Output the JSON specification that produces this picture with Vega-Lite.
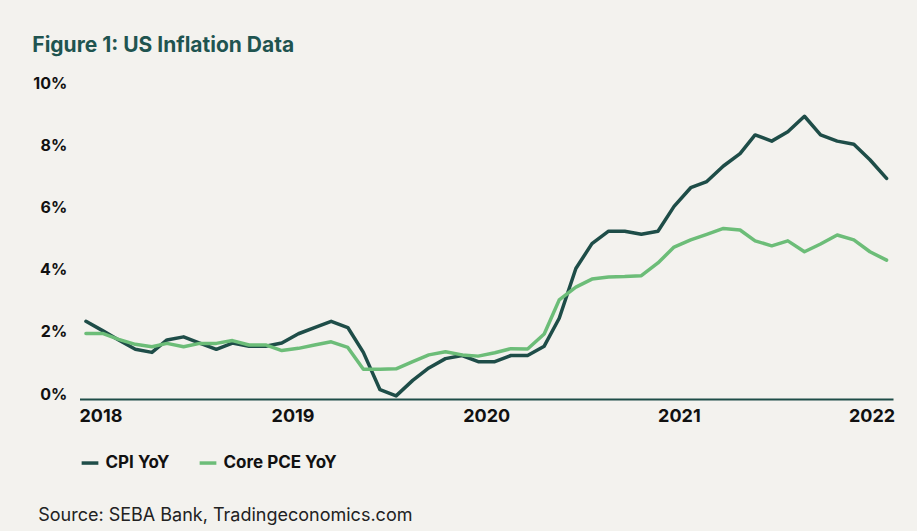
{
  "$schema": "https://vega.github.io/schema/vega-lite/v6.json",
  "width": 813.5,
  "height": 310.7,
  "autosize": {"type": "none"},
  "padding": {"left": 79.5, "top": 88.3, "right": 24, "bottom": 132},
  "background": "#f3f2ee",
  "title": {
    "text": "Figure 1: US Inflation Data",
    "anchor": "start",
    "frame": "group",
    "dx": -47.2,
    "offset": 22,
    "dy": 20,
    "baseline": "alphabetic",
    "font": "Inter",
    "fontSize": 21,
    "fontWeight": 700,
    "color": "#1f5450"
  },
  "config": {"view": {"stroke": null}, "font": "Inter"},
  "data": {
    "values": [
      {"date": "2018-10-01", "series": "CPI YoY", "value": 2.5},
      {"date": "2018-11-01", "series": "CPI YoY", "value": 2.2},
      {"date": "2018-12-01", "series": "CPI YoY", "value": 1.9},
      {"date": "2019-01-01", "series": "CPI YoY", "value": 1.6},
      {"date": "2019-02-01", "series": "CPI YoY", "value": 1.5},
      {"date": "2019-03-01", "series": "CPI YoY", "value": 1.9},
      {"date": "2019-04-01", "series": "CPI YoY", "value": 2.0},
      {"date": "2019-05-01", "series": "CPI YoY", "value": 1.8},
      {"date": "2019-06-01", "series": "CPI YoY", "value": 1.6},
      {"date": "2019-07-01", "series": "CPI YoY", "value": 1.8},
      {"date": "2019-08-01", "series": "CPI YoY", "value": 1.7},
      {"date": "2019-09-01", "series": "CPI YoY", "value": 1.7},
      {"date": "2019-10-01", "series": "CPI YoY", "value": 1.8},
      {"date": "2019-11-01", "series": "CPI YoY", "value": 2.1},
      {"date": "2019-12-01", "series": "CPI YoY", "value": 2.3},
      {"date": "2020-01-01", "series": "CPI YoY", "value": 2.5},
      {"date": "2020-02-01", "series": "CPI YoY", "value": 2.3},
      {"date": "2020-03-01", "series": "CPI YoY", "value": 1.5},
      {"date": "2020-04-01", "series": "CPI YoY", "value": 0.3},
      {"date": "2020-05-01", "series": "CPI YoY", "value": 0.1},
      {"date": "2020-06-01", "series": "CPI YoY", "value": 0.6},
      {"date": "2020-07-01", "series": "CPI YoY", "value": 1.0},
      {"date": "2020-08-01", "series": "CPI YoY", "value": 1.3},
      {"date": "2020-09-01", "series": "CPI YoY", "value": 1.4},
      {"date": "2020-10-01", "series": "CPI YoY", "value": 1.2},
      {"date": "2020-11-01", "series": "CPI YoY", "value": 1.2},
      {"date": "2020-12-01", "series": "CPI YoY", "value": 1.4},
      {"date": "2021-01-01", "series": "CPI YoY", "value": 1.4},
      {"date": "2021-02-01", "series": "CPI YoY", "value": 1.7},
      {"date": "2021-03-01", "series": "CPI YoY", "value": 2.6},
      {"date": "2021-04-01", "series": "CPI YoY", "value": 4.2},
      {"date": "2021-05-01", "series": "CPI YoY", "value": 5.0},
      {"date": "2021-06-01", "series": "CPI YoY", "value": 5.4},
      {"date": "2021-07-01", "series": "CPI YoY", "value": 5.4},
      {"date": "2021-08-01", "series": "CPI YoY", "value": 5.3},
      {"date": "2021-09-01", "series": "CPI YoY", "value": 5.4},
      {"date": "2021-10-01", "series": "CPI YoY", "value": 6.2},
      {"date": "2021-11-01", "series": "CPI YoY", "value": 6.8},
      {"date": "2021-12-01", "series": "CPI YoY", "value": 7.0},
      {"date": "2022-01-01", "series": "CPI YoY", "value": 7.5},
      {"date": "2022-02-01", "series": "CPI YoY", "value": 7.9},
      {"date": "2022-03-01", "series": "CPI YoY", "value": 8.5},
      {"date": "2022-04-01", "series": "CPI YoY", "value": 8.3},
      {"date": "2022-05-01", "series": "CPI YoY", "value": 8.6},
      {"date": "2022-06-01", "series": "CPI YoY", "value": 9.1},
      {"date": "2022-07-01", "series": "CPI YoY", "value": 8.5},
      {"date": "2022-08-01", "series": "CPI YoY", "value": 8.3},
      {"date": "2022-09-01", "series": "CPI YoY", "value": 8.2},
      {"date": "2022-10-01", "series": "CPI YoY", "value": 7.7},
      {"date": "2022-11-01", "series": "CPI YoY", "value": 7.1},
      {"date": "2018-10-01", "series": "Core PCE YoY", "value": 2.11},
      {"date": "2018-11-01", "series": "Core PCE YoY", "value": 2.11},
      {"date": "2018-12-01", "series": "Core PCE YoY", "value": 1.92},
      {"date": "2019-01-01", "series": "Core PCE YoY", "value": 1.76},
      {"date": "2019-02-01", "series": "Core PCE YoY", "value": 1.68},
      {"date": "2019-03-01", "series": "Core PCE YoY", "value": 1.79},
      {"date": "2019-04-01", "series": "Core PCE YoY", "value": 1.68},
      {"date": "2019-05-01", "series": "Core PCE YoY", "value": 1.79},
      {"date": "2019-06-01", "series": "Core PCE YoY", "value": 1.79},
      {"date": "2019-07-01", "series": "Core PCE YoY", "value": 1.88},
      {"date": "2019-08-01", "series": "Core PCE YoY", "value": 1.74},
      {"date": "2019-09-01", "series": "Core PCE YoY", "value": 1.74},
      {"date": "2019-10-01", "series": "Core PCE YoY", "value": 1.56},
      {"date": "2019-11-01", "series": "Core PCE YoY", "value": 1.63},
      {"date": "2019-12-01", "series": "Core PCE YoY", "value": 1.74},
      {"date": "2020-01-01", "series": "Core PCE YoY", "value": 1.84},
      {"date": "2020-02-01", "series": "Core PCE YoY", "value": 1.66},
      {"date": "2020-03-01", "series": "Core PCE YoY", "value": 0.96},
      {"date": "2020-04-01", "series": "Core PCE YoY", "value": 0.96},
      {"date": "2020-05-01", "series": "Core PCE YoY", "value": 0.97},
      {"date": "2020-06-01", "series": "Core PCE YoY", "value": 1.2},
      {"date": "2020-07-01", "series": "Core PCE YoY", "value": 1.42},
      {"date": "2020-08-01", "series": "Core PCE YoY", "value": 1.52},
      {"date": "2020-09-01", "series": "Core PCE YoY", "value": 1.42},
      {"date": "2020-10-01", "series": "Core PCE YoY", "value": 1.38},
      {"date": "2020-11-01", "series": "Core PCE YoY", "value": 1.49},
      {"date": "2020-12-01", "series": "Core PCE YoY", "value": 1.62},
      {"date": "2021-01-01", "series": "Core PCE YoY", "value": 1.61},
      {"date": "2021-02-01", "series": "Core PCE YoY", "value": 2.09},
      {"date": "2021-03-01", "series": "Core PCE YoY", "value": 3.19},
      {"date": "2021-04-01", "series": "Core PCE YoY", "value": 3.6},
      {"date": "2021-05-01", "series": "Core PCE YoY", "value": 3.86},
      {"date": "2021-06-01", "series": "Core PCE YoY", "value": 3.93},
      {"date": "2021-07-01", "series": "Core PCE YoY", "value": 3.94},
      {"date": "2021-08-01", "series": "Core PCE YoY", "value": 3.97},
      {"date": "2021-09-01", "series": "Core PCE YoY", "value": 4.38},
      {"date": "2021-10-01", "series": "Core PCE YoY", "value": 4.89},
      {"date": "2021-11-01", "series": "Core PCE YoY", "value": 5.12},
      {"date": "2021-12-01", "series": "Core PCE YoY", "value": 5.3},
      {"date": "2022-01-01", "series": "Core PCE YoY", "value": 5.49},
      {"date": "2022-02-01", "series": "Core PCE YoY", "value": 5.44},
      {"date": "2022-03-01", "series": "Core PCE YoY", "value": 5.09},
      {"date": "2022-04-01", "series": "Core PCE YoY", "value": 4.93},
      {"date": "2022-05-01", "series": "Core PCE YoY", "value": 5.09},
      {"date": "2022-06-01", "series": "Core PCE YoY", "value": 4.74},
      {"date": "2022-07-01", "series": "Core PCE YoY", "value": 4.99},
      {"date": "2022-08-01", "series": "Core PCE YoY", "value": 5.28},
      {"date": "2022-09-01", "series": "Core PCE YoY", "value": 5.12},
      {"date": "2022-10-01", "series": "Core PCE YoY", "value": 4.74},
      {"date": "2022-11-01", "series": "Core PCE YoY", "value": 4.47}
    ]
  },
  "mark": {"type": "line", "strokeWidth": 3.5, "strokeJoin": "round", "strokeCap": "round"},
  "encoding": {
    "x": {
      "field": "date",
      "type": "temporal",
      "scale": {"domain": [{"year": 2018, "month": 9, "date": 19}, {"year": 2022, "month": 11, "date": 13}]},
      "axis": {
        "values": [
          {"year": 2018, "month": 10, "date": 28},
          {"year": 2019, "month": 10, "date": 21},
          {"year": 2020, "month": 10, "date": 16},
          {"year": 2021, "month": 10, "date": 10},
          {"year": 2022, "month": 10, "date": 4}
        ],
        "format": "%Y",
        "labelFlush": false,
        "labelOverlap": false,
        "ticks": false,
        "grid": false,
        "domainColor": "#1e4d48",
        "domainWidth": 2,
        "labelFont": "Inter",
        "labelFontSize": 18,
        "labelFontWeight": 700,
        "labelColor": "#111111",
        "labelPadding": 8,
        "title": "Source: SEBA Bank, Tradingeconomics.com",
        "titleX": -41.8,
        "titleY": 121,
        "titleAnchor": "start",
        "titleAlign": "left",
        "titleBaseline": "alphabetic",
        "titleFont": "Inter",
        "titleFontSize": 18,
        "titleFontWeight": 400,
        "titleColor": "#222222"
      }
    },
    "y": {
      "field": "value",
      "type": "quantitative",
      "scale": {"domain": [0, 10]},
      "axis": {
        "values": [0, 2, 4, 6, 8, 10],
        "labelExpr": "datum.value + '%'",
        "domain": false,
        "ticks": false,
        "grid": false,
        "labelBaseline": "alphabetic",
        "labelPadding": 12.8,
        "labelFont": "Inter",
        "labelFontSize": 16,
        "labelFontWeight": 700,
        "labelColor": "#111111",
        "title": null
      }
    },
    "color": {
      "field": "series",
      "type": "nominal",
      "sort": ["CPI YoY", "Core PCE YoY"],
      "scale": {"domain": ["CPI YoY", "Core PCE YoY"], "range": ["#1e4d48", "#6cbd78"]},
      "legend": {
        "title": null,
        "orient": "none",
        "direction": "horizontal",
        "legendX": 0,
        "legendY": 364,
        "symbolType": "stroke",
        "symbolSize": 280,
        "symbolStrokeWidth": 3.5,
        "labelOffset": 5,
        "columnPadding": 23,
        "labelFont": "Inter",
        "labelFontSize": 17,
        "labelFontWeight": 700,
        "labelColor": "#111111"
      }
    }
  }
}
